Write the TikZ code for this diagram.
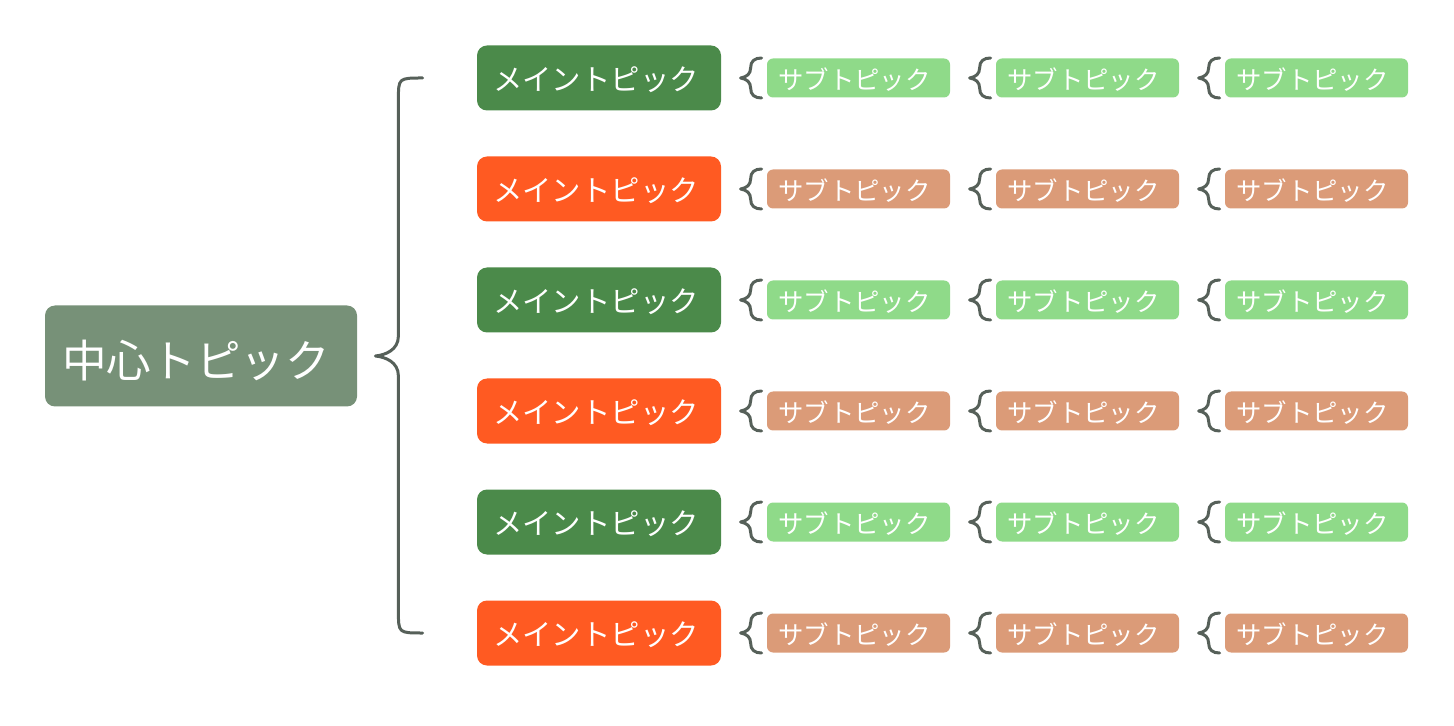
\documentclass[tikz,border=0pt]{standalone}
\usepackage{fontspec}
\usetikzlibrary{calc}
\newfontfamily\jpfont{Noto Sans CJK JP}
\definecolor{centregreen}{HTML}{779178}
\definecolor{maingreen}{HTML}{4B8A4A}
\definecolor{mainorange}{HTML}{FF5A22}
\definecolor{subgreen}{HTML}{8FDA89}
\definecolor{subtan}{HTML}{DB9B78}
\definecolor{bracegray}{HTML}{566059}
\tikzset{
    centre/.style={fill=centregreen, text=white, rounded corners=5pt,
        minimum width=156pt, minimum height=50.5pt, inner sep=0pt,
        text height=21.5pt, text depth=0pt,
        execute at end node={\hspace*{5pt}},
        font=\jpfont\fontsize{22.3}{26}\selectfont},
    maintopic/.style={text=white, rounded corners=5pt,
        minimum width=122pt, minimum height=32.5pt, inner sep=0pt,
        text height=12.6pt, text depth=0pt,
        execute at end node={\hspace*{3pt}},
        font=\jpfont\fontsize{14.7}{17}\selectfont},
    subtopic/.style={text=white, rounded corners=3pt,
        minimum width=91.5pt, minimum height=19.5pt, inner sep=0pt,
        text height=11.2pt, text depth=0pt,
        execute at end node={\hspace*{4pt}},
        font=\jpfont\fontsize{12.7}{15}\selectfont},
    bigbrace/.style={draw=bracegray, line width=1.5pt, line join=round, line cap=round},
    twig/.pic={
        \draw[bigbrace] (0,-20) .. controls (-7,-20) and (-11,-17) .. (-11,-10)
            .. controls (-11,-4) and (-15,-1) .. (-21,0)
            .. controls (-15,1) and (-11,4) .. (-11,10)
            .. controls (-11,17) and (-7,20) .. (0,20);
    }
}
\begin{document}
\begin{tikzpicture}[x=0.5pt, y=-0.5pt]
        \useasboundingbox (0,0) rectangle (1454,726);
        \node[centre] (centre) at (201,356) {中心トピック};
        \foreach \i in {1,...,6} {
            \pgfmathsetmacro\y{78+(\i-1)*111}
            \ifodd\i
                \def\mcol{maingreen}\def\scol{subgreen}
            \else
                \def\mcol{mainorange}\def\scol{subtan}
            \fi
            \node[maintopic, fill=\mcol] (m\i) at (599,\y) {メイントピック};
            \foreach \j/\x in {1/858.5, 2/1087.5, 3/1316.5} {
                \node[subtopic, fill=\scol] (s\i\j) at (\x,\y) {サブトピック};
                \pic at ([xshift=-2.5pt]s\i\j.west) {twig};
            }
        }
        % big brace from the centre to the main topics
        \coordinate (tip) at ([xshift=9pt]centre.east);
        \coordinate (spine) at ([xshift=11.5pt]tip);
        \coordinate (top) at ([xshift=-27pt]m1.west);
        \coordinate (bot) at ([xshift=-27pt]m6.west);
        \coordinate (topturn) at (top -| spine);
        \coordinate (botturn) at (bot -| spine);
        \draw[bigbrace] (top) .. controls (topturn) .. ($(topturn)+(0,22)$)
            -- ($(spine)+(0,-20)$) .. controls ($(spine)+(0,-6)$) and ($(tip)+(10,-1)$) .. (tip)
            .. controls ($(tip)+(10,1)$) and ($(spine)+(0,6)$) .. ($(spine)+(0,20)$)
            -- ($(botturn)+(0,-22)$) .. controls (botturn) .. (bot);
    \end{tikzpicture}
\end{document}
